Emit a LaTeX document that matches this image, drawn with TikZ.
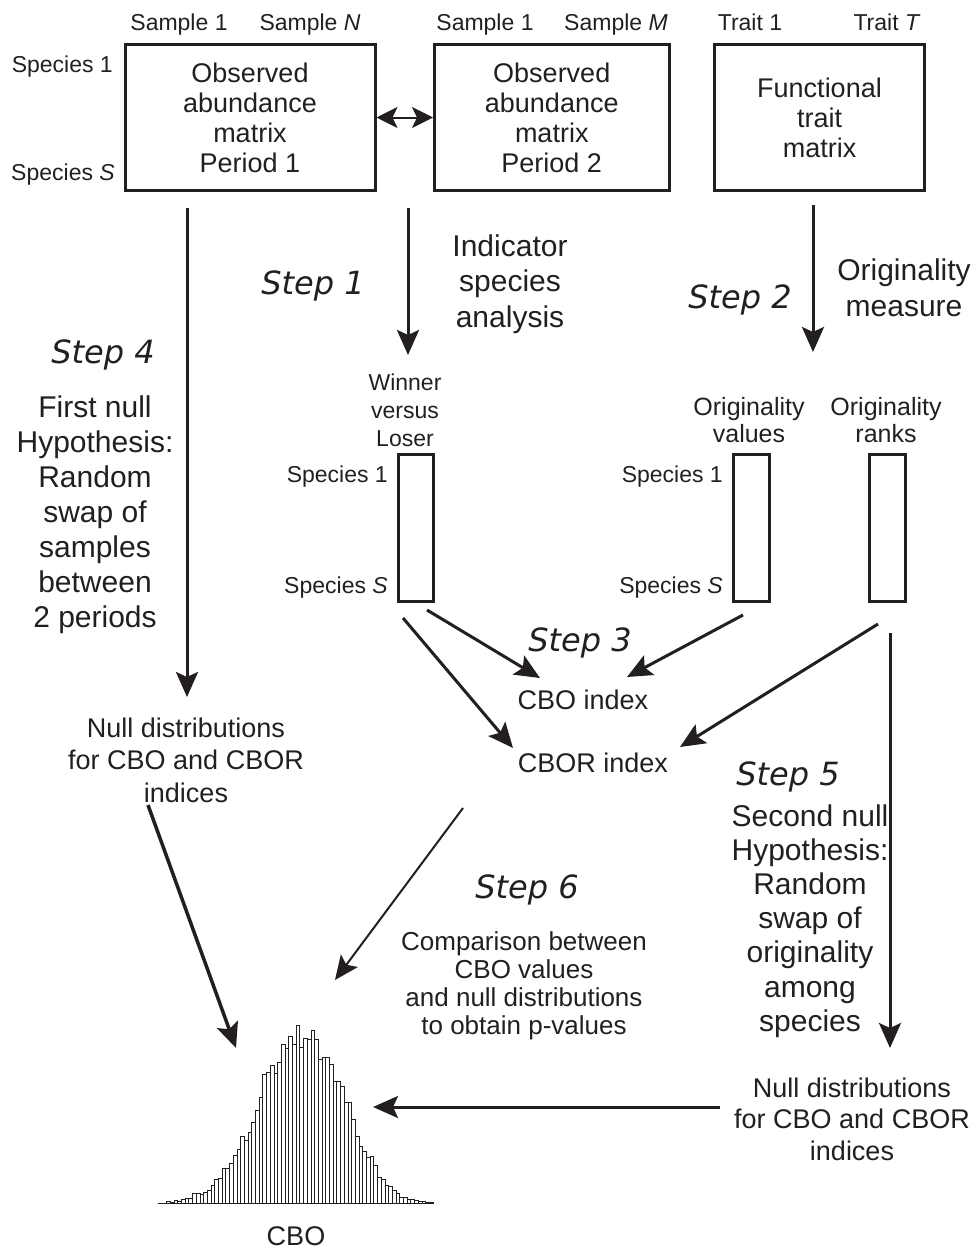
\documentclass[tikz,border=0pt]{standalone}
\usepackage{fontspec}
\setmainfont{Liberation Sans}
\newfontfamily\stepf{DejaVu Sans}
\usetikzlibrary{arrows.meta}
\definecolor{ink}{HTML}{231F20}
\begin{document}
\begin{tikzpicture}[x=1pt,y=-1pt,
  every node/.style={text=ink, inner sep=0pt},
  mbox/.style={draw=ink, line width=3pt, align=center, font=\fontsize{27}{30}\selectfont, minimum height=146pt},
  vbox/.style={draw=ink, line width=3pt, minimum width=35.5pt, minimum height=147pt},
  lab/.style={font=\fontsize{23}{27}\selectfont},
  wlab/.style={font=\fontsize{23}{28}\selectfont, align=center},
  olab/.style={font=\fontsize{25}{27}\selectfont, align=center},
  big/.style={font=\fontsize{30}{35.5}\selectfont, align=center},
  nul/.style={font=\fontsize{27}{32.5}\selectfont, align=center},
  cmp/.style={font=\fontsize{26}{28}\selectfont, align=center},
  idx/.style={font=\fontsize{27}{30}\selectfont},
  steplbl/.style={font=\stepf\itshape\fontsize{32}{36}\selectfont},
  arr/.style={draw=ink, line width=3pt, -{Stealth[length=25pt,width=22pt,inset=5pt]}},
  tarr/.style={draw=ink, line width=2pt, -{Stealth[length=24pt,width=21pt,inset=5pt]}},
  dbl/.style={draw=ink, line width=2pt, {Stealth[length=21pt,width=21pt,inset=5pt]}-{Stealth[length=21pt,width=21pt,inset=5pt]}},
  bar/.style={draw=ink, line width=0.9pt, fill=white}
]
\useasboundingbox (0,0) rectangle (977,1258);

% top matrices
\node[mbox, minimum width=250pt] (box1) at (250,117.5) {Observed\\abundance\\matrix\\Period 1};
\node[mbox, minimum width=234.5pt] (box2) at (551.75,117.5) {Observed\\abundance\\matrix\\Period 2};
\node[mbox, minimum width=210pt] (box3) at (819.5,117.5) {Functional\\trait\\matrix};

\node[lab, anchor=base] (s1a) at (179,30) {Sample 1};
\node[lab, anchor=base] (sNa) at (310,30) {Sample \textit{N}};
\node[lab, anchor=base] (s1b) at (485,30) {Sample 1};
\node[lab, anchor=base] (sMb) at (616,30) {Sample \textit{M}};
\node[lab, anchor=base] (t1) at (750,30) {Trait 1};
\node[lab, anchor=base] (tT) at (887,30) {Trait \textit{T}};
\node[lab, anchor=base east] (sp1a) at (113,72) {Species 1};
\node[lab, anchor=base east] (spSa) at (115,180) {Species \textit{S}};

\draw[dbl] (box1.east) -- (box2.west);

% step labels
\node[steplbl] (st1) at (313,286) {Step 1};
\node[steplbl] (st2) at (740,300) {Step 2};
\node[steplbl] (st3) at (580,643) {Step 3};
\node[steplbl] (st4) at (103,355) {Step 4};
\node[steplbl] (st5) at (788,777) {Step 5};
\node[steplbl] (st6) at (527,890) {Step 6};

\node[big] (ind) at (510,284) {Indicator\\species\\analysis};
\node[big] (om) at (904,288) {Originality\\measure};
\node[big, font=\fontsize{30}{35}\selectfont] (h1) at (95,515) {First null\\Hypothesis:\\Random\\swap of\\samples\\between\\2 periods};
\node[big, font=\fontsize{30}{34.2}\selectfont] (h2) at (810,921) {Second null\\Hypothesis:\\Random\\swap of\\originality\\among\\species};

% vectors
\node[wlab] (wlt) at (405,410) {Winner\\versus\\Loser};
\node[olab] (ovt) at (749,420) {Originality\\values};
\node[olab] (ort) at (886,420) {Originality\\ranks};

\node[vbox] (wl) at (415.75,528) {};
\node[vbox] (ov) at (751.5,528) {};
\node[vbox] (ork) at (887.5,528) {};

\node[lab, anchor=base east] (sp1b) at (388,482) {Species 1};
\node[lab, anchor=base east] (spSb) at (388,593) {Species \textit{S}};
\node[lab, anchor=base east] (sp1c) at (723,482) {Species 1};
\node[lab, anchor=base east] (spSc) at (723,593) {Species \textit{S}};

% indices
\node[idx] (cbo) at (583,700) {CBO index};
\node[idx] (cbor) at (593,763) {CBOR index};

\node[nul] (n1) at (186,760) {Null distributions\\for CBO and CBOR\\indices};
\node[nul, font=\fontsize{27}{31.5}\selectfont] (n2) at (852,1119) {Null distributions\\for CBO and CBOR\\indices};
\node[cmp] (cmp) at (524,986) {Comparison between\\CBO values\\and null distributions\\to obtain p-values};
\node[idx] (cbolab) at (296,1236) {CBO};

% histogram
\foreach \h [count=\i] in {1.7,1,3,1.7,3.3,5,5,9.3,9.3,8.3,11,12.7,17.3,23.3,24.3,35,35,40,47.3,53.3,66.7,62.7,70.7,81,92.3,106,128.3,131,137.7,130,141,159,155,166.7,159,177.7,156,165,164,173,164,144,146,146,139,122,122,117,101,101,84,67,57,52,46,47,38,26,24,18,17,13,10,6,6,3.5,3.5,3,1.5,1.7,1,1}
  {\draw[bar] ({166.7+(\i-1)*3.7},1203) rectangle ++(3.7,-\h);}
\draw[draw=ink, line width=1pt] (158,1203) -- (433,1203);

% connector end points
\coordinate (a1s) at (187,208);  \coordinate (a1e) at (187,697);
\coordinate (a2s) at (408,208);  \coordinate (a2e) at (408,355);
\coordinate (a3s) at (813,205);  \coordinate (a3e) at (813,352);
\coordinate (a4s) at (427,610);  \coordinate (a4e) at (540,678);
\coordinate (a5s) at (403,618);  \coordinate (a5e) at (513,748);
\coordinate (a6s) at (743,615);  \coordinate (a6e) at (627,677);
\coordinate (a7s) at (878,624);  \coordinate (a7e) at (680,747);
\coordinate (a8s) at (890,633);  \coordinate (a8e) at (890,1048);
\coordinate (a9s) at (463,808);  \coordinate (a9e) at (335,980);
\coordinate (a10s) at (148,805); \coordinate (a10e) at (236,1048);
\coordinate (a11s) at (720,1107); \coordinate (a11e) at (373,1107);

\draw[arr] (a1s) -- (a1e);
\draw[arr] (a2s) -- (a2e);
\draw[arr] (a3s) -- (a3e);
\draw[arr] (a4s) -- (a4e);
\draw[arr] (a5s) -- (a5e);
\draw[arr] (a6s) -- (a6e);
\draw[arr] (a7s) -- (a7e);
\draw[arr] (a8s) -- (a8e);
\draw[tarr] (a9s) -- (a9e);
\draw[arr, line width=3.5pt] (a10s) -- (a10e);
\draw[arr] (a11s) -- (a11e);
\end{tikzpicture}
\end{document}
